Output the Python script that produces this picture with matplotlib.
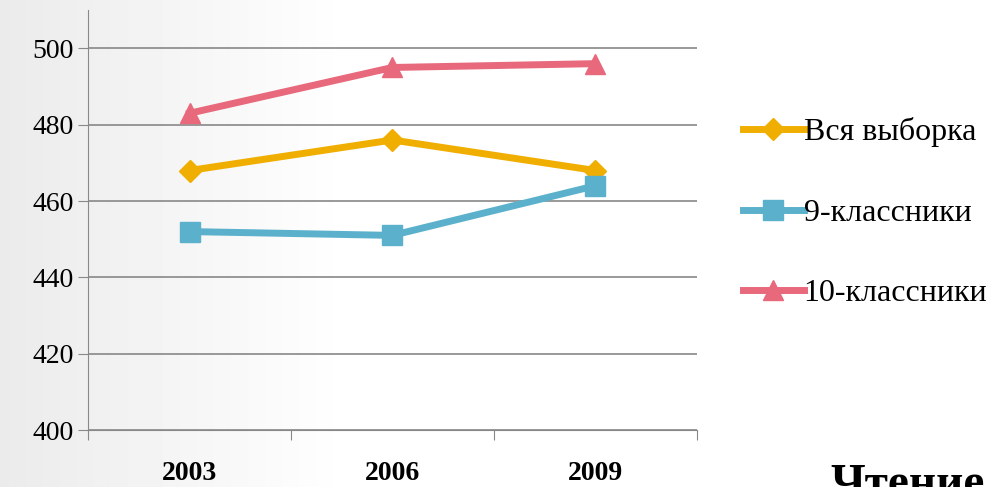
import matplotlib.pyplot as plt
import numpy as np

years = ['2003', '2006', '2009']
vsya = [468, 476, 468]
kl9 = [452, 451, 464]
kl10 = [483, 495, 496]

plt.rcParams['font.family'] = ['Liberation Serif', 'DejaVu Serif']

fig = plt.figure(figsize=(10.01, 4.87), dpi=100)
bg = fig.add_axes([0, 0, 1, 1], zorder=-10)
grad = np.clip(np.linspace(0, 1, 1001) / 0.35, 0, 1)
grad = 0.92 + 0.08 * grad
bg.imshow(np.tile(grad, (10, 1)), cmap='gray', vmin=0, vmax=1, aspect='auto', extent=[0, 1, 0, 1])
bg.axis('off')

ax = fig.add_axes([0.088, 0.117, 0.608, 0.862])
ax.patch.set_alpha(0)
x = np.arange(len(years))
ax.plot(x, vsya, color='#f0ae00', lw=5, marker='D', ms=11, label='Вся выборка')
ax.plot(x, kl9, color='#5bb1cc', lw=5, marker='s', ms=15, label='9-классники')
ax.plot(x, kl10, color='#e8687c', lw=5, marker='^', ms=15, label='10-классники')

ax.set_xlim(-0.5, 2.5)
ax.set_ylim(400, 510)
ax.set_yticks(range(400, 501, 20))
ax.set_xticks([-0.5, 0.5, 1.5, 2.5])
ax.set_xticklabels([])
ax.set_xticks(x, minor=True)
ax.set_xticklabels(years, minor=True, fontsize=20, fontweight='bold')
ax.tick_params(axis='x', which='minor', length=0, pad=22)
ax.tick_params(axis='x', which='major', length=7, color='#888888')
ax.tick_params(axis='y', labelsize=20, length=7, color='#888888')
ax.grid(axis='y', color='#888888', lw=1.2)
for s in ['top', 'right']:
    ax.spines[s].set_visible(False)
for s in ['left', 'bottom']:
    ax.spines[s].set_color('#888888')

ax.legend(loc='upper left', bbox_to_anchor=(1.055, 0.775), frameon=False, fontsize=23,
          handlelength=1.9, handletextpad=0.0, labelspacing=1.6, borderaxespad=0.0)

fig.text(0.83, -0.04, 'Чтение', fontsize=34, fontweight='bold', va='bottom')

fig.savefig('out.png', dpi=100)
